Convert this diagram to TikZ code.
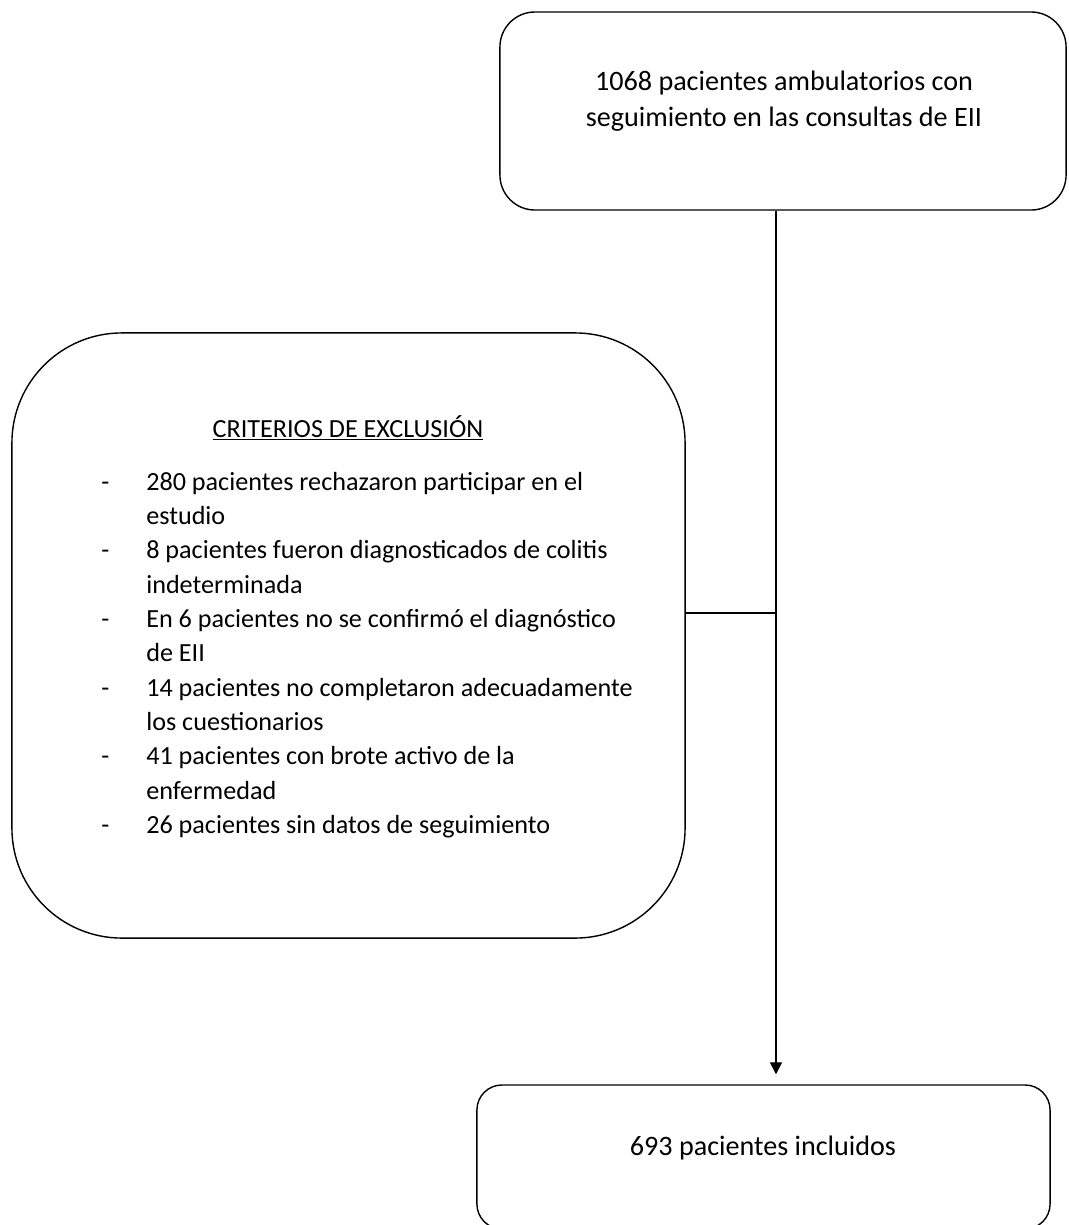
\documentclass[tikz,border=0pt]{standalone}
\usepackage{fontspec}
\setmainfont{Carlito}
\usetikzlibrary{arrows.meta}

\tikzset{
	caja/.style = {draw, line width = 1pt, rounded corners = #1},
	texto/.style = {align = center, font = \fontsize{20}{25.6}\selectfont},
	lista/.style = {align = left, font = \fontsize{18.6}{24.4}\selectfont, inner sep = 0pt}
}

\begin{document}
\begin{tikzpicture}[x = 0.025cm, y = -0.025cm]
	\useasboundingbox (0, 0) rectangle (1068, 1225);

	% cajas
	\node[caja = 0.875cm, minimum width = 14.15cm, minimum height = 4.95cm] (inicio) at (783, 111) {};
	\node[caja = 2.75cm, minimum width = 16.825cm, minimum height = 15.125cm] (exclusion) at (348.5, 635.5) {};
	\node[caja = 0.625cm, minimum width = 14.325cm, minimum height = 3.6cm] (incluidos) at (763.5, 1157) {};

	% textos
	\node[texto] (inicioTxt) at (784, 101) {1068 pacientes ambulatorios con\\seguimiento en las consultas de EII};
	\node[texto, font = \fontsize{18.6}{24.4}\selectfont] (titulo) at (348, 428) {\underline{CRITERIOS DE EXCLUSIÓN}};
	\node[lista, anchor = north west] (items) at (101, 466) {%
		\begin{tabular}{@{}p{1.125cm}@{}l@{}}
			- & 280 pacientes rechazaron participar en el\\
			  & estudio\\
			- & 8 pacientes fueron diagnosticados de colitis\\
			  & indeterminada\\
			- & En 6 pacientes no se confirmó el diagnóstico\\
			  & de EII\\
			- & 14 pacientes no completaron adecuadamente\\
			  & los cuestionarios\\
			- & 41 pacientes con brote activo de la\\
			  & enfermedad\\
			- & 26 pacientes sin datos de seguimiento
		\end{tabular}};
	\node[texto] (incluidosTxt) at (763, 1148) {693 pacientes incluidos};

	% conectores
	\coordinate (union) at (776, 613);
	\draw[line width = 1pt] (exclusion.east |- union) -- (union);
	\draw[line width = 1pt, -{Triangle[length = 3mm, width = 3mm]}, shorten > = 0.25cm]
		(inicio.south -| union) -- (incluidos.north -| union);
\end{tikzpicture}
\end{document}
